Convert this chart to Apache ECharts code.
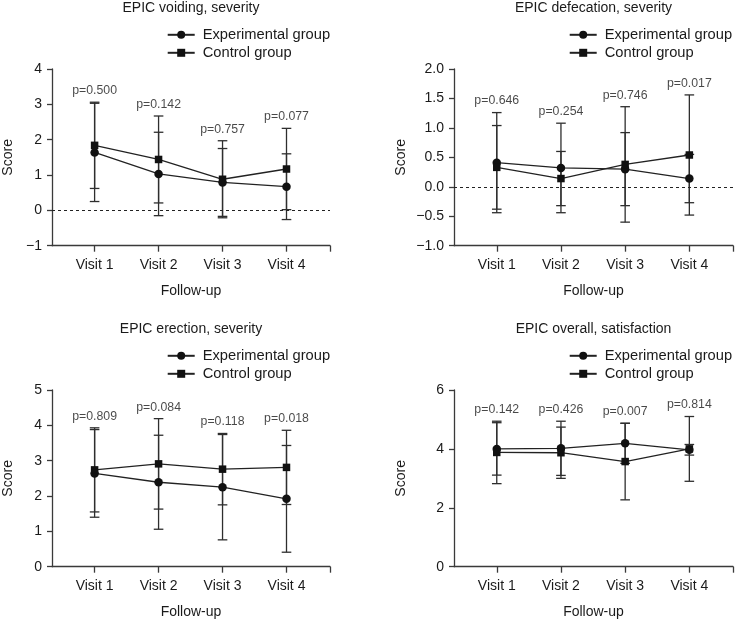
<!DOCTYPE html>
<html><head><meta charset="utf-8">
<script src="https://cdn.jsdelivr.net/npm/echarts@6/dist/echarts.min.js"></script>
<style>html,body{margin:0;padding:0;background:#fff}#c{width:735px;height:620px}</style>
</head><body><div id="c"></div>
<script>
// ---------- data ----------
const categories = ['Visit 1', 'Visit 2', 'Visit 3', 'Visit 4'];
const seriesNames = ['Experimental group', 'Control group'];

// EPIC voiding, severity
const voidingExpMean = [1.64, 1.03, 0.79, 0.67];
const voidingExpSd   = [1.39, 1.18, 0.96, 0.93];
const voidingCtlMean = [1.84, 1.44, 0.88, 1.17];
const voidingCtlSd   = [1.22, 1.23, 1.09, 1.15];
const voidingP = ['p=0.500', 'p=0.142', 'p=0.757', 'p=0.077'];
const voidingTicks = [-1, 0, 1, 2, 3, 4];

// EPIC defecation, severity
const defecExpMean = [0.41, 0.32, 0.30, 0.14];
const defecExpSd   = [0.85, 0.76, 0.62, 0.41];
const defecCtlMean = [0.33, 0.14, 0.38, 0.54];
const defecCtlSd   = [0.71, 0.46, 0.98, 1.02];
const defecP = ['p=0.646', 'p=0.254', 'p=0.746', 'p=0.017'];
const defecTicks = [-1.0, -0.5, 0.0, 0.5, 1.0, 1.5, 2.0];

// EPIC erection, severity
const erectExpMean = [2.64, 2.39, 2.25, 1.92];
const erectExpSd   = [1.24, 1.33, 1.49, 1.51];
const erectCtlMean = [2.74, 2.91, 2.76, 2.81];
const erectCtlSd   = [1.19, 1.28, 1.01, 1.05];
const erectP = ['p=0.809', 'p=0.084', 'p=0.118', 'p=0.018'];
const erectTicks = [0, 1, 2, 3, 4, 5];

// EPIC overall, satisfaction
const overallExpMean = [4.00, 4.02, 4.19, 3.97];
const overallExpSd   = [0.89, 0.92, 0.68, 0.18];
const overallCtlMean = [3.88, 3.87, 3.57, 4.00];
const overallCtlSd   = [1.06, 0.87, 1.30, 1.10];
const overallP = ['p=0.142', 'p=0.426', 'p=0.007', 'p=0.814'];
const overallTicks = [0, 2, 4, 6];

const titles = ['EPIC voiding, severity', 'EPIC defecation, severity', 'EPIC erection, severity', 'EPIC overall, satisfaction'];
const xLabel = 'Follow-up';
const yLabel = 'Score';

// ---------- layout / style ----------
const FONT = 'Liberation Sans, Arial, Helvetica, sans-serif';
const TXT = '#1a1a1a';
const AX = '#3a3a3a';
const XMIN = 0.334, XMAX = 4.68;

const panels = [
  {exp:[voidingExpMean, voidingExpSd], ctl:[voidingCtlMean, voidingCtlSd], p:voidingP, ticks:voidingTicks, dec:0, zero:true,
   grid:{left:52, top:69, width:278, height:176.7}, nameGap:37},
  {exp:[defecExpMean, defecExpSd], ctl:[defecCtlMean, defecCtlSd], p:defecP, ticks:defecTicks, dec:1, zero:true,
   grid:{left:454, top:69, width:279, height:176.7}, nameGap:46},
  {exp:[erectExpMean, erectExpSd], ctl:[erectCtlMean, erectCtlSd], p:erectP, ticks:erectTicks, dec:0, zero:false,
   grid:{left:52, top:390, width:278, height:176.7}, nameGap:37},
  {exp:[overallExpMean, overallExpSd], ctl:[overallCtlMean, overallCtlSd], p:overallP, ticks:overallTicks, dec:0, zero:false,
   grid:{left:454, top:390, width:279, height:176.7}, nameGap:46}
];

function errRender(params, api) {
  const x = api.value(0), lo = api.value(1), hi = api.value(2);
  const a = api.coord([x, lo]), b = api.coord([x, hi]);
  const w = 4.8;
  const style = {stroke: '#2e2e2e', lineWidth: 1.3};
  return {type: 'group', children: [
    {type: 'line', shape: {x1: a[0], y1: a[1], x2: b[0], y2: b[1]}, style: style},
    {type: 'line', shape: {x1: a[0] - w, y1: a[1], x2: a[0] + w, y2: a[1]}, style: style},
    {type: 'line', shape: {x1: b[0] - w, y1: b[1], x2: b[0] + w, y2: b[1]}, style: style}
  ]};
}

const option = {animation: false, backgroundColor: '#fff', title: [], legend: [], grid: [], xAxis: [], yAxis: [], series: []};

panels.forEach((pn, i) => {
  const g = pn.grid;
  const cx = g.left + g.width / 2;
  option.grid.push({left: g.left, top: g.top, width: g.width, height: g.height, containLabel: false});
  option.title.push({text: titles[i], left: cx, top: g.top - 68, textAlign: 'center', padding: 0,
    textStyle: {fontFamily: FONT, fontSize: 14, fontWeight: 'normal', color: TXT}});
  option.legend.push({orient: 'vertical', left: g.left + 114.7, top: g.top - 41.7, padding: 0,
    itemWidth: 27, itemHeight: 10, itemGap: 3, selectedMode: false, data: seriesNames,
    textStyle: {fontFamily: FONT, fontSize: 14.7, color: TXT, lineHeight: 14.5, padding: [0, 0, 0, 3]}});
  const t = pn.ticks;
  option.xAxis.push({type: 'value', gridIndex: i, min: XMIN, max: XMAX,
    name: xLabel, nameLocation: 'middle', nameGap: 38, nameTextStyle: {fontFamily: FONT, fontSize: 14, color: TXT},
    axisLine: {show: true, onZero: false, lineStyle: {color: AX, width: 1.3}},
    axisTick: {show: true, length: 6, lineStyle: {color: AX, width: 1.3}, customValues: [1, 2, 3, 4, XMAX]},
    axisLabel: {customValues: [1, 2, 3, 4], margin: 12, fontFamily: FONT, fontSize: 14, color: TXT,
      formatter: v => categories[Math.round(v) - 1] || ''},
    splitLine: {show: false}});
  option.yAxis.push({type: 'value', gridIndex: i, min: t[0], max: t[t.length - 1], interval: t[1] - t[0],
    name: yLabel, nameLocation: 'middle', nameGap: pn.nameGap, nameTextStyle: {fontFamily: FONT, fontSize: 14, color: TXT},
    axisLine: {show: true, onZero: false, lineStyle: {color: AX, width: 1.3}},
    axisTick: {show: true, length: 5, lineStyle: {color: AX, width: 1.3}},
    axisLabel: {margin: 10, fontFamily: FONT, fontSize: 14, color: TXT,
      formatter: v => v.toFixed(pn.dec).replace('-', '\u2212')},
    splitLine: {show: false}});

  const groups = [pn.exp, pn.ctl];
  groups.forEach((grp, k) => {
    const mean = grp[0], sd = grp[1];
    option.series.push({type: 'custom', name: 'err' + i + '_' + k, xAxisIndex: i, yAxisIndex: i, z: 1,
      renderItem: errRender, encode: {x: 0, y: [1, 2]}, silent: true,
      data: mean.map((m, j) => [j + 1, m - sd[j], m + sd[j]])});
  });
  groups.forEach((grp, k) => {
    const s = {type: 'line', name: seriesNames[k], xAxisIndex: i, yAxisIndex: i, z: 3,
      symbol: k === 0 ? 'circle' : 'rect', symbolSize: k === 0 ? 8.5 : 7.5,
      itemStyle: {color: '#111'}, lineStyle: {color: '#222', width: 1.3},
      data: grp[0].map((m, j) => [j + 1, m]), silent: true};
    if (k === 0 && pn.zero) {
      s.markLine = {silent: true, symbol: 'none', label: {show: false},
        lineStyle: {type: [3, 3], color: '#222', width: 1.2}, data: [{yAxis: 0}]};
    }
    option.series.push(s);
  });
  const tops = pn.exp[0].map((m, j) => Math.max(m + pn.exp[1][j], pn.ctl[0][j] + pn.ctl[1][j]));
  option.series.push({type: 'scatter', name: 'p' + i, xAxisIndex: i, yAxisIndex: i, symbolSize: 0, silent: true, z: 4,
    data: tops.map((v, j) => [j + 1, v]),
    label: {show: true, position: 'top', distance: 5.5, fontFamily: FONT, fontSize: 12.3, color: TXT,
      formatter: p => pn.p[p.dataIndex]}});
});

const chart = echarts.init(document.getElementById('c'), null, {renderer: 'canvas'});
chart.setOption(option);
</script></body></html>
